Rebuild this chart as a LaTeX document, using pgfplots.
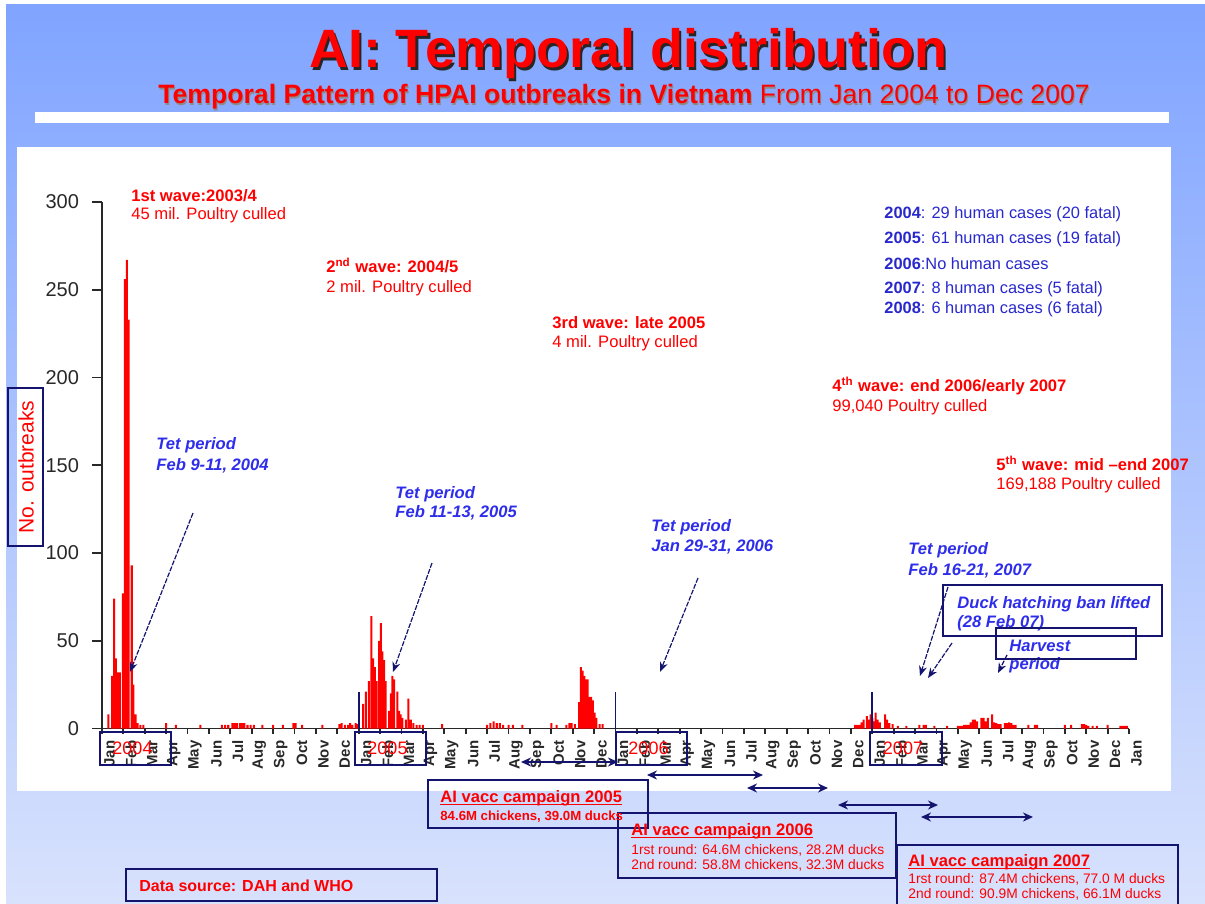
\documentclass[border=0pt]{standalone}
\usepackage{pgfplots}
\pgfplotsset{compat=1.18}
\usepackage{fontspec}
\setmainfont{Liberation Sans}
\usetikzlibrary{arrows.meta}
\definecolor{bgtop}{RGB}{128,164,255}
\definecolor{bgbot}{RGB}{216,226,253}
\definecolor{navy}{RGB}{20,20,110}
\definecolor{tblue}{RGB}{45,45,235}
\definecolor{hblue}{RGB}{40,40,205}
\definecolor{axgray}{RGB}{40,40,40}
\newcommand{\fs}[1]{\fontsize{#1}{#1}\selectfont}
\newcommand{\ul}[1]{\setbox0\hbox{#1}\rlap{\rule[-1.6pt]{\wd0}{0.55pt}}\box0}

\pgfplotstableread{
m n
0.30 8
0.47 30
0.57 74
0.65 40
0.73 32
0.83 32
0.98 77
1.07 256
1.16 267
1.24 233
1.39 93
1.47 25
1.57 8
1.67 3
1.79 2
1.93 2
3.00 3
3.45 2
4.60 2
5.60 2
5.75 2
5.90 2
6.10 3
6.20 3
6.30 3
6.45 3
6.55 3
6.65 3
6.80 2
6.95 2
7.10 2
7.50 2
8.00 2
8.45 2
8.95 3
9.05 3
9.35 2
10.30 2
11.10 2.5
11.20 3
11.35 2
11.50 2
11.60 3
11.70 2
11.85 3
11.95 2.5
12.20 14
12.33 21
12.47 27
12.59 64
12.67 40
12.75 35
12.83 27
12.95 50
13.03 60
13.10 44
13.19 39
13.26 27
13.42 10
13.50 20
13.57 30
13.65 28
13.81 21
13.89 10
13.96 8
14.04 6
14.20 5
14.32 17
14.43 5
14.55 3
14.70 2
14.85 2
15.00 2
15.90 2.5
18.00 2
18.15 3
18.30 4
18.45 3
18.60 3
18.75 2
19.00 2
19.20 2
19.65 2
21.00 3
21.25 2
21.70 2
21.85 3
21.95 3
22.10 2.5
22.30 15
22.38 35
22.46 33
22.54 30
22.62 28
22.70 28
22.78 18
22.86 18
22.94 16
23.02 9
23.10 6
23.26 2.5
23.40 2.5
35.20 2
35.30 2
35.40 2
35.50 3.5
35.60 5
35.75 7
35.82 5
35.93 8
36.00 6
36.08 4
36.16 9
36.25 5
36.35 3.5
36.60 8
36.70 5
36.80 3
36.95 2.5
37.20 1.5
37.60 1.5
38.20 2
38.40 2
38.50 2
38.90 1.5
39.50 1.5
40.00 1.5
40.10 1.5
40.20 1.5
40.30 2
40.40 2
40.50 2
40.60 3.5
40.70 5
40.80 5
40.90 4
41.10 6
41.20 6
41.30 4
41.40 6
41.60 8
41.70 3.5
41.80 3
41.90 2.5
42.00 2.5
42.20 3
42.30 3
42.40 3.5
42.50 3
42.60 2
42.70 2
43.30 2
43.60 2
43.70 2
45.00 2
45.30 2
45.80 2.5
45.90 2.5
46.00 2
46.10 1.5
46.30 1.5
46.50 1.5
47.00 2
47.60 1.5
47.70 1.5
47.80 1.5
47.90 1.5
}\outbreaks

\begin{document}
\begin{tikzpicture}
\useasboundingbox (0,0) rectangle (602.5pt,-452pt);
\begin{scope}[x=0.5pt,y=-0.5pt]
\fill[white] (0,0) rectangle (1205,904);
\shade[top color=bgtop, bottom color=bgbot] (6,5) rectangle (1205,904);
\fill[white] (35,112) rectangle (1169,123);
\fill[white] (17,147) rectangle (1171,791);
% title
\node[anchor=base, text=black!85, font=\fs{27}\bfseries] at (630.5,70.5) {AI: Temporal distribution};
\node[anchor=base, text=red, font=\fs{27}\bfseries] at (628,68) {AI: Temporal distribution};
\node[anchor=base west, text=black!45, font=\fs{13.3}, inner sep=0pt] at (159,105) {\bfseries Temporal Pattern of HPAI outbreaks in Vietnam \mdseries From Jan 2004 to Dec 2007};
\node[anchor=base west, text=red, font=\fs{13.3}, inner sep=0pt] at (158,104) {\bfseries Temporal Pattern of HPAI outbreaks in Vietnam \mdseries From Jan 2004 to Dec 2007};
\end{scope}

\begin{axis}[
 at={(51pt,-364.25pt)}, anchor=south west,
 scale only axis, width=513.5pt, height=263.25pt,
 xmin=0, xmax=48, ymin=0, ymax=300,
 axis lines*=left,
 axis line style={axgray, line width=0.9pt},
 clip=false,
 ytick={0,50,...,300},
 /pgf/number format/assume math mode=true,
 yticklabel style={font=\fs{10}, text=axgray, xshift=-3pt},
 major tick length=5pt,
 tick align=outside,
 tick style={axgray, line width=0.9pt},
 xtick={0,...,48},
 xticklabels={Jan,Feb,Mar,Apr,May,Jun,Jul,Aug,Sep,Oct,Nov,Dec,Jan,Feb,Mar,Apr,May,Jun,Jul,Aug,Sep,Oct,Nov,Dec,Jan,Feb,Mar,Apr,May,Jun,Jul,Aug,Sep,Oct,Nov,Dec,Jan,Feb,Mar,Apr,May,Jun,Jul,Aug,Sep,Oct,Nov,Dec,Jan},
 xtick style={draw=none},
 xticklabel style={font=\fs{7.5}\bfseries, text=axgray, xshift=3.75pt, yshift=2.5pt, rotate=90, anchor=east},
]
\addplot[ybar, bar width=0.095, fill=red, draw=none] table[x=m, y=n] {\outbreaks};
\pgfplotsinvokeforeach{0,...,48}{\draw[axgray, line width=0.9pt] (axis cs:#1,0) -- ++(0pt,-2.5pt);}
\draw[axgray, line width=0.9pt] (axis cs:0,0) -- ++(-5pt,0pt);
\draw[navy, line width=0.9pt] (axis cs:12,0) -- (axis cs:12,21);
\draw[navy, line width=0.9pt] (axis cs:24,0) -- (axis cs:24,21);
\draw[navy, line width=0.9pt] (axis cs:36,0) -- (axis cs:36,21);
\end{axis}

\begin{scope}[x=0.5pt,y=-0.5pt]
% y label box
\draw[navy, line width=0.7pt] (8,388) rectangle (43,546);
\node[rotate=90, text=red, font=\fs{10.5}] at (26,467) {No. outbreaks};
% year boxes
\foreach \xa/\xb/\yr in {100/171/2004, 355/426/2005, 616/687/2006, 870/942/2007}{
  \draw[navy, line width=0.75pt] (\xa,732) rectangle (\xb,765);
  \node[text=red, font=\fs{9}] at ({(\xa+\xb)/2-3},748) {\yr};
}
% waves
\begin{scope}[every node/.style={anchor=base west, inner sep=0pt, text=red, font=\fs{8.3}}]
\node at (131,201) {\bfseries 1st wave:2003/4};
\node at (131,220) {45 mil. Poultry culled};
\node at (326,272) {\bfseries 2\textsuperscript{nd} wave: 2004/5};
\node at (326,292) {2 mil. Poultry culled};
\node at (552,328) {\bfseries 3rd wave: late 2005};
\node at (552,347) {4 mil. Poultry culled};
\node at (832,391) {\bfseries 4\textsuperscript{th} wave: end 2006/early 2007};
\node at (832,411) {99,040 Poultry culled};
\node at (996,470) {\bfseries 5\textsuperscript{th} wave: mid –end 2007};
\node at (996,489) {169,188 Poultry culled};
\end{scope}
% Tet
\begin{scope}[every node/.style={anchor=base west, inner sep=0pt, text=tblue, font=\fs{8.3}\bfseries\itshape}]
\node at (156,449) {Tet period};
\node at (156,470) {Feb 9-11, 2004};
\node at (395,498) {Tet period};
\node at (395,517) {Feb 11-13, 2005};
\node at (651,531) {Tet period};
\node at (651,551) {Jan 29-31, 2006};
\node at (908,554) {Tet period};
\node at (908,575) {Feb 16-21, 2007};
\node at (957,608) {Duck hatching ban lifted};
\node at (957,627) {(28 Feb 07)};
\node at (1009,651) {Harvest};
\node at (1009,669) {period};
\end{scope}
\draw[navy, line width=0.75pt] (943,585) rectangle (1162,636);
\draw[navy, line width=0.75pt] (996,628) rectangle (1136,659);
\begin{scope}[navy, line width=0.6pt, dash pattern=on 2.5pt off 0.7pt, -{Stealth[length=5pt,width=4pt]}]
\draw (193,513) -- (130,672);
\draw (432,563) -- (393,672);
\draw (698,578) -- (660,672);
\draw (948,587) -- (920,676);
\draw (952,643) -- (928,678);
\draw (1007,655) -- (998,673);
\end{scope}
% human cases
\begin{scope}[every node/.style={anchor=base west, inner sep=0pt, text=hblue, font=\fs{8.2}}]
\node at (884,218) {\bfseries 2004\mdseries: 29 human cases (20 fatal)};
\node at (884,243) {\bfseries 2005\mdseries: 61 human cases (19 fatal)};
\node at (884,269) {\bfseries 2006\mdseries:No human cases};
\node at (884,293) {\bfseries 2007\mdseries: 8 human cases (5 fatal)};
\node at (884,313) {\bfseries 2008\mdseries: 6 human cases (6 fatal)};
\end{scope}
% vacc arrows
\begin{scope}[navy, line width=0.8pt, {Stealth[length=5pt,width=4.5pt]}-{Stealth[length=5pt,width=4.5pt]}]
\draw (521,762) -- (618,762);
\draw (647,775) -- (763,775);
\draw (747,788) -- (828,788);
\draw (838,805) -- (938,805);
\draw (921,817) -- (1033,817);
\end{scope}
% vacc boxes
\draw[navy, line width=0.75pt] (428,780) rectangle (648,828);
\draw[navy, line width=0.75pt] (618,813) rectangle (896,878);
\draw[navy, line width=0.75pt] (897,845) -- (1178,845) -- (1178,910);
\draw[navy, line width=0.75pt] (897,845) -- (897,910);
\begin{scope}[every node/.style={anchor=base west, inner sep=0pt, text=red}]
\node[font=\fs{8.3}\bfseries] at (440,802) {\ul{AI vacc campaign 2005}};
\node[font=\fs{6.6}\bfseries] at (440,820) {84.6M chickens, 39.0M ducks};
\node[font=\fs{8.3}\bfseries] at (631,835) {\ul{AI vacc campaign 2006}};
\node[font=\fs{6.9}] at (631,854) {1rst round: 64.6M chickens, 28.2M ducks};
\node[font=\fs{6.9}] at (631,869) {2nd round: 58.8M chickens, 32.3M ducks};
\node[font=\fs{8.3}\bfseries] at (908,866) {\ul{AI vacc campaign 2007}};
\node[font=\fs{6.9}] at (908,883) {1rst round: 87.4M chickens, 77.0 M ducks};
\node[font=\fs{6.9}] at (908,898) {2nd round: 90.9M chickens, 66.1M ducks};
\node[font=\fs{8}\bfseries] at (139,891) {Data source: DAH and WHO};
\end{scope}
\draw[navy, line width=0.75pt] (126,869) rectangle (437,901);
\end{scope}
\end{tikzpicture}
\end{document}
